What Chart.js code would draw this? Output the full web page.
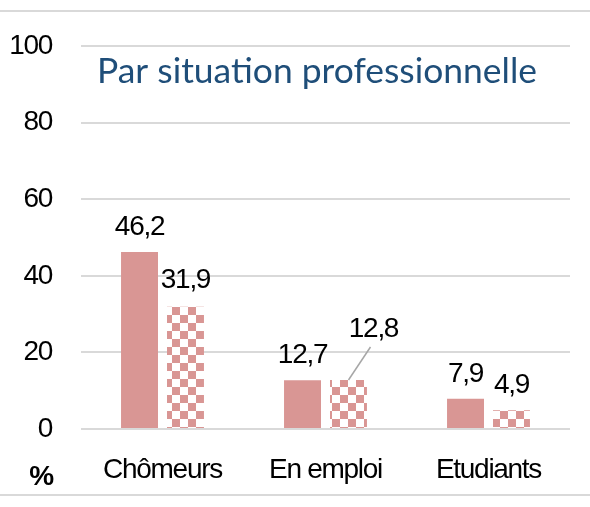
<!DOCTYPE html>
<html>
<head>
<meta charset="utf-8">
<script src="https://cdn.jsdelivr.net/npm/chart.js@4"></script>
<style>
    html, body { margin: 0; padding: 0; background: #fff; }
    #wrap { width: 590px; height: 507px; }
</style>
</head>
<body>
<div id="wrap"><canvas id="chart" width="590" height="507"></canvas></div>
<script>
const categories = ['Chômeurs', 'En emploi', 'Etudiants'];
const solidValues = [46.2, 12.7, 7.9];
const checkedValues = [31.9, 12.8, 4.9];
const yMin = 0;
const yMax = 100;
const yStep = 20;
const unitLabel = '%';
const titleText = 'Par situation professionnelle';

const pink = '#D99694';
const gridGray = '#D9D9D9';
const textFont = "'Liberation Sans', Arial, sans-serif";
const textSize = 28;
// the original uses a narrow face, so squeeze the letters a little
const squeeze = '-1.3px';

// label offsets relative to the top centre of each bar (baseline of the text)
const labelOffsets = {
    0: [[0, -17], [0, -17], [0, -17]],
    1: [[0, -19], [25, -43], [0, -17]]
};

const canvas = document.getElementById('chart');
const ctx = canvas.getContext('2d');

function makeChecker() {
    const c = document.createElement('canvas');
    c.width = 16;
    c.height = 16;
    const cx = c.getContext('2d');
    cx.fillStyle = '#fff';
    cx.fillRect(0, 0, 16, 16);
    cx.fillStyle = pink;
    cx.fillRect(0, 0, 8, 8);
    cx.fillRect(8, 8, 8, 8);
    const p = ctx.createPattern(c, 'repeat');
    p.setTransform(new DOMMatrix([1, 0, 0, 1, 12, 3]));
    return p;
}

const decorPlugin = {
    id: 'decor',
    beforeDraw(chart) {
        const c = chart.ctx;
        c.letterSpacing = squeeze;
        c.save();
        c.fillStyle = '#fff';
        c.fillRect(0, 0, chart.width, chart.height);
        c.strokeStyle = gridGray;
        c.lineWidth = 2;
        c.beginPath();
        c.moveTo(0, 11); c.lineTo(chart.width, 11);
        c.moveTo(0, 495); c.lineTo(chart.width, 495);
        c.stroke();
        c.restore();
    },
    afterDatasetsDraw(chart) {
        const c = chart.ctx;
        c.save();
        c.letterSpacing = squeeze;
        c.font = textSize + 'px ' + textFont;
        c.fillStyle = '#000';
        c.textAlign = 'center';
        c.textBaseline = 'alphabetic';
        chart.data.datasets.forEach((ds, di) => {
            const meta = chart.getDatasetMeta(di);
            meta.data.forEach((bar, i) => {
                const off = labelOffsets[di][i];
                const tx = bar.x + off[0];
                const ty = bar.y + off[1];
                if (off[0] !== 0) {
                    c.strokeStyle = '#A6A6A6';
                    c.lineWidth = 1.5;
                    c.beginPath();
                    c.moveTo(bar.x, bar.y);
                    c.lineTo(tx - 3, ty + 10);
                    c.stroke();
                }
                c.fillText(ds.data[i].toFixed(1).replace('.', ','), tx, ty);
            });
        });

        // unit label under the y axis
        c.font = 'bold ' + textSize + 'px ' + textFont;
        c.fillText(unitLabel, 41, 485);

        // title, fitted to the width it has in the original
        c.letterSpacing = '0px';
        c.font = '35px Lato, "Open Sans", sans-serif';
        c.fillStyle = '#1F4E79';
        c.textAlign = 'left';
        const w = c.measureText(titleText).width;
        c.translate(97, 83);
        c.scale(440 / w, 1);
        c.fillText(titleText, 0, 0);
        c.restore();
    }
};

new Chart(ctx, {
    type: 'bar',
    data: {
        labels: categories,
        datasets: [
            {
                data: solidValues,
                backgroundColor: pink,
                borderWidth: 0,
                barPercentage: 0.804,
                categoryPercentage: 0.564
            },
            {
                data: checkedValues,
                backgroundColor: makeChecker(),
                borderWidth: 0,
                barPercentage: 0.804,
                categoryPercentage: 0.564
            }
        ]
    },
    options: {
        responsive: false,
        animation: false,
        layout: {
            padding: { left: 0, right: 20, top: 46, bottom: 0 }
        },
        plugins: {
            legend: { display: false },
            title: { display: false },
            tooltip: { enabled: false }
        },
        scales: {
            x: {
                grid: { display: false, drawTicks: false },
                border: { display: false },
                ticks: {
                    color: '#000',
                    padding: 24,
                    font: { size: textSize, family: textFont }
                },
                afterFit: (axis) => { axis.height = 78; }
            },
            y: {
                min: yMin,
                max: yMax,
                grid: { color: gridGray, lineWidth: 2, drawTicks: false },
                border: { display: false },
                ticks: {
                    stepSize: yStep,
                    color: '#000',
                    padding: 29,
                    font: { size: textSize, family: textFont }
                },
                afterFit: (axis) => { axis.width = 81; }
            }
        }
    },
    plugins: [decorPlugin]
});
</script>
</body>
</html>
